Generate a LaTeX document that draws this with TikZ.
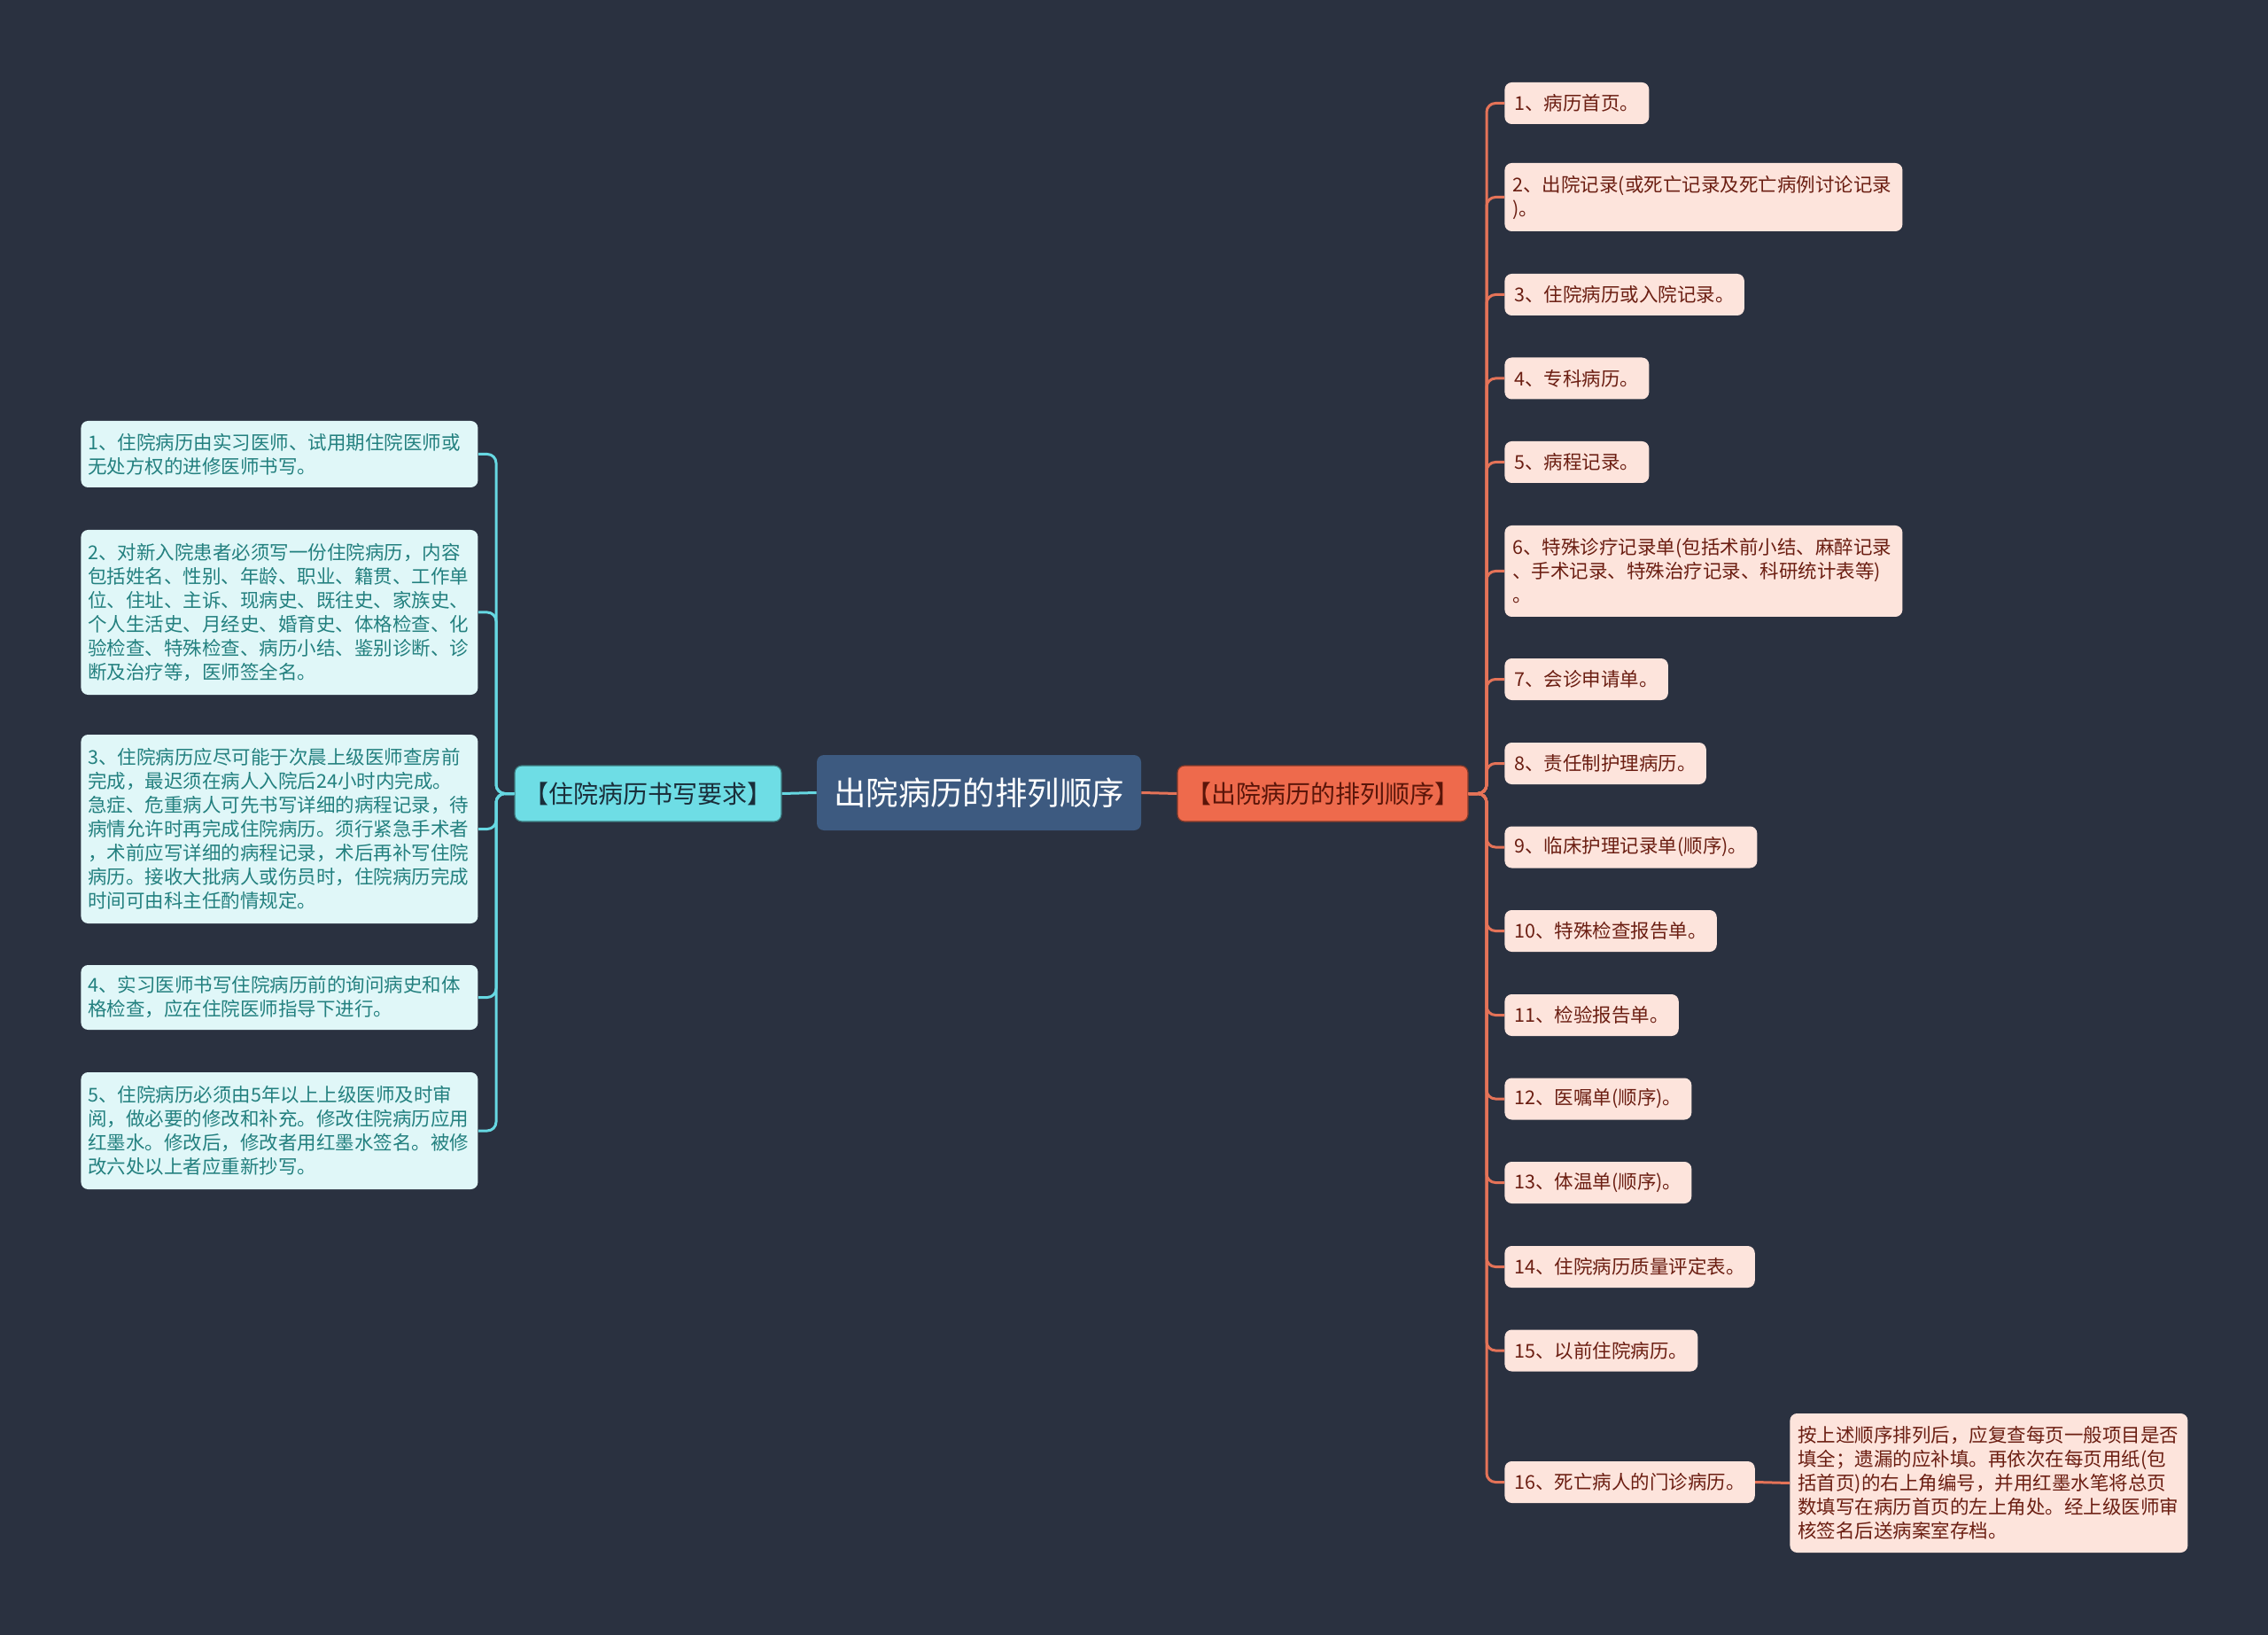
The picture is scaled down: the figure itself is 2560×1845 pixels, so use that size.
\documentclass[tikz,border=0pt]{standalone}
\usepackage{fontspec}
\setmainfont{Noto Sans CJK SC}
\definecolor{bg}{HTML}{2A3140}
\definecolor{centerfill}{HTML}{3D5A80}
\definecolor{lmainfill}{HTML}{6EDDE5}
\definecolor{lmaintext}{HTML}{1A2E3A}
\definecolor{lleaffill}{HTML}{E0F7F8}
\definecolor{lleaftext}{HTML}{23807F}
\definecolor{lline}{HTML}{66D8E2}
\definecolor{rmainfill}{HTML}{EE6A4C}
\definecolor{rmaintext}{HTML}{5A1509}
\definecolor{rleaffill}{HTML}{FDE4DC}
\definecolor{rleaftext}{HTML}{6B1E12}
\definecolor{rline}{HTML}{E57358}
\begin{document}
\begin{tikzpicture}[x=0.5pt,y=-0.5pt,
  leaffont/.style={font=\fontsize{10.75pt}{13.5pt}\selectfont},
  lleaf/.style={leaffont, anchor=west, fill=lleaffill, text=lleaftext, rounded corners=4pt,
    align=left, text width=216pt, inner xsep=4pt, inner ysep=0pt},
  rleaf/.style={leaffont, anchor=west, fill=rleaffill, text=rleaftext, rounded corners=4pt,
    align=left, inner xsep=5.5pt, inner ysep=0pt, minimum height=23.5pt},
  rwide/.style={rleaf, text width=215.5pt, inner xsep=4.5pt},
  centernode/.style={fill=centerfill, text=white, rounded corners=4pt,
    font=\fontsize{18.2pt}{22pt}\selectfont, minimum width=183pt, minimum height=42.5pt, inner sep=0pt},
  lmain/.style={fill=lmainfill, text=lmaintext, draw=lmainfill!55!black, line width=0.6pt, rounded corners=4pt,
    font=\fontsize{14pt}{17pt}\selectfont, minimum width=150.5pt, minimum height=31.5pt, inner sep=0pt},
  rmain/.style={fill=rmainfill, text=rmaintext, draw=rmainfill!55!black, line width=0.6pt, rounded corners=4pt,
    font=\fontsize{14pt}{17pt}\selectfont, minimum width=164pt, minimum height=31.5pt, inner sep=0pt},
  lconn/.style={draw=lline, line width=1.5pt, rounded corners=5pt},
  rconn/.style={draw=rline, line width=1.5pt, rounded corners=5pt}
]
\fill[bg] (0,0) rectangle (2560,1845);
\useasboundingbox (0,0) rectangle (2560,1845);

% main nodes
\node[centernode] (c) at (1105,894.5) {出院病历的排列顺序};
\node[lmain] (lm) at (731.5,895.5) {【住院病历书写要求】};
\node[rmain] (rm) at (1493,895.5) {【出院病历的排列顺序】};

% left leaves
\node[lleaf, minimum height=37.5pt] (l1) at (91,512.5) {1、住院病历由实习医师、试用期住院医师或\\无处方权的进修医师书写。};
\node[lleaf, minimum height=93pt] (l2) at (91,691) {2、对新入院患者必须写一份住院病历，内容\\包括姓名、性别、年龄、职业、籍贯、工作单\\位、住址、主诉、现病史、既往史、家族史、\\个人生活史、月经史、婚育史、体格检查、化\\验检查、特殊检查、病历小结、鉴别诊断、诊\\断及治疗等，医师签全名。};
\node[lleaf, minimum height=106.5pt] (l3) at (91,935.5) {3、住院病历应尽可能于次晨上级医师查房前\\完成，最迟须在病人入院后24小时内完成。\\急症、危重病人可先书写详细的病程记录，待\\病情允许时再完成住院病历。须行紧急手术者\\，术前应写详细的病程记录，术后再补写住院\\病历。接收大批病人或伤员时，住院病历完成\\时间可由科主任酌情规定。};
\node[lleaf, minimum height=36.5pt] (l4) at (91,1125.5) {4、实习医师书写住院病历前的询问病史和体\\格检查，应在住院医师指导下进行。};
\node[lleaf, minimum height=66pt] (l5) at (91,1276) {5、住院病历必须由5年以上上级医师及时审\\阅，做必要的修改和补充。修改住院病历应用\\红墨水。修改后，修改者用红墨水签名。被修\\改六处以上者应重新抄写。};

% right leaves
\node[rleaf] (r1) at (1698,116.5) {1、病历首页。};
\node[rwide, minimum height=38.5pt] (r2) at (1698,222.5) {2、出院记录(或死亡记录及死亡病例讨论记录\\)。};
\node[rleaf] (r3) at (1698,332.5) {3、住院病历或入院记录。};
\node[rleaf] (r4) at (1698,427) {4、专科病历。};
\node[rleaf] (r5) at (1698,521.5) {5、病程记录。};
\node[rwide, minimum height=51.5pt] (r6) at (1698,644.5) {6、特殊诊疗记录单(包括术前小结、麻醉记录\\、手术记录、特殊治疗记录、科研统计表等)\\。};
\node[rleaf] (r7) at (1698,766.5) {7、会诊申请单。};
\node[rleaf] (r8) at (1698,861.5) {8、责任制护理病历。};
\node[rleaf] (r9) at (1698,956) {9、临床护理记录单(顺序)。};
\node[rleaf] (r10) at (1698,1050.5) {10、特殊检查报告单。};
\node[rleaf] (r11) at (1698,1145.5) {11、检验报告单。};
\node[rleaf] (r12) at (1698,1240) {12、医嘱单(顺序)。};
\node[rleaf] (r13) at (1698,1334.5) {13、体温单(顺序)。};
\node[rleaf] (r14) at (1698,1429.5) {14、住院病历质量评定表。};
\node[rleaf] (r15) at (1698,1524) {15、以前住院病历。};
\node[rleaf] (r16) at (1698,1672.5) {16、死亡病人的门诊病历。};
\node[rwide, minimum height=78.5pt] (det) at (2020,1673.5) {按上述顺序排列后，应复查每页一般项目是否\\填全；遗漏的应补填。再依次在每页用纸(包\\括首页)的右上角编号，并用红墨水笔将总页\\数填写在病历首页的左上角处。经上级医师审\\核签名后送病案室存档。};

% connectors
\coordinate (tl) at (560,895.5);
\coordinate (tr) at (1678,895.5);
\draw[lconn] (c.west) -- (lm.east);
\draw[rconn] (c.east) -- (rm.west);
\foreach \n in {l1,l2,l3,l4,l5}
  \draw[lconn] (lm.west) -- (tl) |- (\n.east);
\foreach \n in {r1,r2,r3,r4,r5,r6,r7,r8,r9,r10,r11,r12,r13,r14,r15,r16}
  \draw[rconn] (rm.east) -- (tr) |- (\n.west);
\draw[rconn] (r16.east) -- (det.west);
\end{tikzpicture}
\end{document}
